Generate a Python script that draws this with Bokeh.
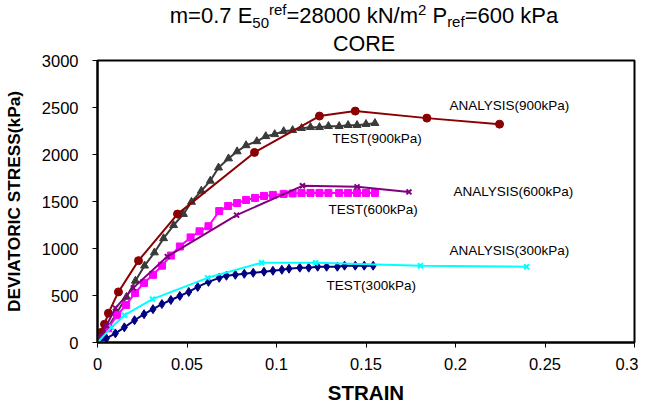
from bokeh.plotting import figure
from bokeh.models import Label, FixedTicker, CustomJSTickFormatter, Range1d, Div
from bokeh.layouts import column
from bokeh.embed import file_html
from bokeh.resources import INLINE

# ---------------- data ----------------
test_900_strain = [0, 0.0056, 0.0106, 0.0162, 0.0212, 0.0263, 0.0318, 0.0369, 0.0425, 0.048,
                   0.0525, 0.058, 0.063, 0.0676, 0.0732, 0.078, 0.083, 0.089, 0.094, 0.099,
                   0.104, 0.109, 0.114, 0.119, 0.124, 0.129, 0.135, 0.140, 0.145, 0.150, 0.155]
test_900_stress = [0, 151, 312, 484, 656, 817, 957, 1108, 1247, 1366,
                   1495, 1613, 1720, 1860, 1957, 2032, 2097, 2140, 2194, 2215,
                   2247, 2258, 2280, 2290, 2290, 2301, 2301, 2312, 2312, 2323, 2333]

analysis_900_strain = [0, 0.0022, 0.0039, 0.0061, 0.0117, 0.0229, 0.0447, 0.0877, 0.124, 0.144, 0.184, 0.2246]
analysis_900_stress = [0, 108, 194, 312, 538, 871, 1366, 2022, 2409, 2462, 2387, 2323]

test_600_strain = [0, 0.003, 0.006, 0.011, 0.016, 0.021, 0.026, 0.031, 0.036, 0.041, 0.046,
                   0.052, 0.057, 0.062, 0.068, 0.073, 0.078, 0.083, 0.088, 0.093, 0.098,
                   0.104, 0.109, 0.114, 0.119, 0.124, 0.129, 0.135, 0.140, 0.145, 0.150, 0.155]
test_600_stress = [0, 54, 151, 290, 400, 527, 634, 720, 817, 925, 1021,
                   1118, 1183, 1237, 1398, 1452, 1484, 1516, 1538, 1559, 1570,
                   1581, 1586, 1591, 1591, 1591, 1591, 1591, 1591, 1591, 1591, 1591]

analysis_600_strain = [0, 0.002, 0.005, 0.010, 0.020, 0.039, 0.0777, 0.1145, 0.145, 0.174]
analysis_600_stress = [0, 70, 180, 366, 581, 914, 1355, 1667, 1656, 1602]

test_300_strain = [0, 0.005, 0.010, 0.015, 0.0207, 0.026, 0.031, 0.036, 0.041, 0.046,
                   0.051, 0.056, 0.062, 0.068, 0.072, 0.077, 0.082, 0.087, 0.093, 0.098,
                   0.103, 0.107, 0.113, 0.118, 0.123, 0.128, 0.134, 0.138, 0.144, 0.149, 0.154]
test_300_stress = [0, 43, 97, 161, 237, 301, 355, 409, 452, 495,
                   538, 591, 645, 688, 710, 720, 731, 742, 753, 763,
                   774, 785, 796, 796, 806, 806, 806, 817, 817, 817, 817]

analysis_300_strain = [0, 0.0078, 0.0151, 0.0307, 0.0615, 0.0916, 0.1218, 0.1804, 0.2397]
analysis_300_stress = [0, 161, 290, 462, 688, 849, 849, 817, 806]

x_ticks = [0, 0.05, 0.1, 0.15, 0.2, 0.25, 0.3]
y_ticks = [0, 500, 1000, 1500, 2000, 2500, 3000]

series_labels = ["ANALYSIS(900kPa)", "TEST(900kPa)", "ANALYSIS(600kPa)",
                 "TEST(600kPa)", "ANALYSIS(300kPa)", "TEST(300kPa)"]
label_x = [0.1966, 0.1313, 0.1989, 0.129, 0.1966, 0.128]
label_y = [2516, 2172, 1602, 1419, 978, 602]

title_line1 = ("m=0.7 E<sub>50</sub><sup>ref</sup>=28000 kN/m<sup>2</sup> "
               "P<sub>ref</sub>=600 kPa")
title_line2 = "CORE"

FONT = "Liberation Sans"

def span(shift):
    return (f"font-size:15px;line-height:0;vertical-align:baseline;"
            f"position:relative;top:{shift}px;")

html_line1 = (title_line1
              .replace("<sub>50</sub>", f'<span style="{span(5)}">50</span>')
              .replace("<sup>ref</sup>", f'<span style="{span(-8)}">ref</span>')
              .replace("<sup>2</sup>", f'<span style="{span(-8)}">2</span>')
              .replace("<sub>ref</sub>", f'<span style="{span(4)}">ref</span>'))

box = ("width:638px;box-sizing:border-box;padding-left:90px;text-align:center;"
       f"font-family:'{FONT}';color:black;white-space:nowrap;")
title = Div(
    text=(f'<div style="{box}font-size:22px;line-height:32px;height:32px;">{html_line1}</div>'
          f'<div style="{box}font-size:21.5px;line-height:25px;height:25px;">{title_line2}</div>'),
    width=638, height=46, margin=(0, 0, 0, 0), styles={"overflow": "visible"})

p = figure(width=638, height=360, output_backend="svg", toolbar_location=None,
           x_range=Range1d(0, 0.3), y_range=Range1d(0, 3000),
           min_border_left=90, min_border_right=4, min_border_top=14, min_border_bottom=63,
           margin=(0, 0, 0, 0))
p.background_fill_color = "white"
p.border_fill_color = None
p.outline_line_color = "black"
p.outline_line_width = 2
p.xgrid.visible = False
p.ygrid.visible = False

for ax in (p.xaxis[0], p.yaxis[0]):
    ax.axis_line_color = "black"
    ax.axis_line_width = 2
    ax.major_tick_line_color = "black"
    ax.major_tick_in = 0
    ax.major_tick_out = 5
    ax.minor_tick_line_color = None
    ax.major_label_text_font = FONT
    ax.major_label_text_font_size = "16.5px"
    ax.major_label_text_color = "black"
    ax.axis_label_text_font = FONT
    ax.axis_label_text_font_style = "bold"
    ax.axis_label_text_color = "black"

p.xaxis.ticker = FixedTicker(ticks=x_ticks)
p.yaxis.ticker = FixedTicker(ticks=y_ticks)
p.xaxis.formatter = CustomJSTickFormatter(code="return tick.toFixed(2).replace(/\\.?0+$/, '');")
p.xaxis.axis_label = "STRAIN"
p.xaxis.axis_label_text_font_size = "20.5px"
p.xaxis.major_label_standoff = 10
p.xaxis.axis_label_standoff = 8
p.yaxis.axis_label = "DEVIATORIC STRESS(kPa)"
p.yaxis.axis_label_text_font_size = "17.3px"
p.yaxis.major_label_standoff = 14
p.yaxis.axis_label_standoff = 15

# tests first, analyses drawn above them
p.line(test_900_strain, test_900_stress, color="#3a3a3a", line_width=2)
p.scatter(test_900_strain, test_900_stress, marker="triangle", size=8, color="#3a3a3a")

p.line(test_600_strain, test_600_stress, color="#ff00ff", line_width=2)
p.scatter(test_600_strain, test_600_stress, marker="square", size=7, color="#ff00ff")

p.line(test_300_strain, test_300_stress, color="#000080", line_width=2)
p.scatter(test_300_strain, test_300_stress, marker="diamond", size=9, color="#000080")

p.line(analysis_900_strain, analysis_900_stress, color="#8b0000", line_width=2)
p.scatter(analysis_900_strain, analysis_900_stress, marker="circle", size=8, color="#8b0000")

p.line(analysis_600_strain, analysis_600_stress, color="#800080", line_width=2)
p.scatter(analysis_600_strain, analysis_600_stress, marker="x", size=7, line_width=2, color="#800080")

p.line(analysis_300_strain, analysis_300_stress, color="#00ffff", line_width=2)
p.scatter(analysis_300_strain, analysis_300_stress, marker="x", size=7, line_width=2, color="#00ffff")

for t, lx, ly in zip(series_labels, label_x, label_y):
    p.add_layout(Label(x=lx, y=ly, text=t, text_font=FONT, text_font_size="13.5px",
                       text_color="black", text_align="left", text_baseline="middle"))

layout = column(title, p, spacing=0, margin=(0, 0, 0, 0))
open("out.html", "w").write(file_html(layout, INLINE))
